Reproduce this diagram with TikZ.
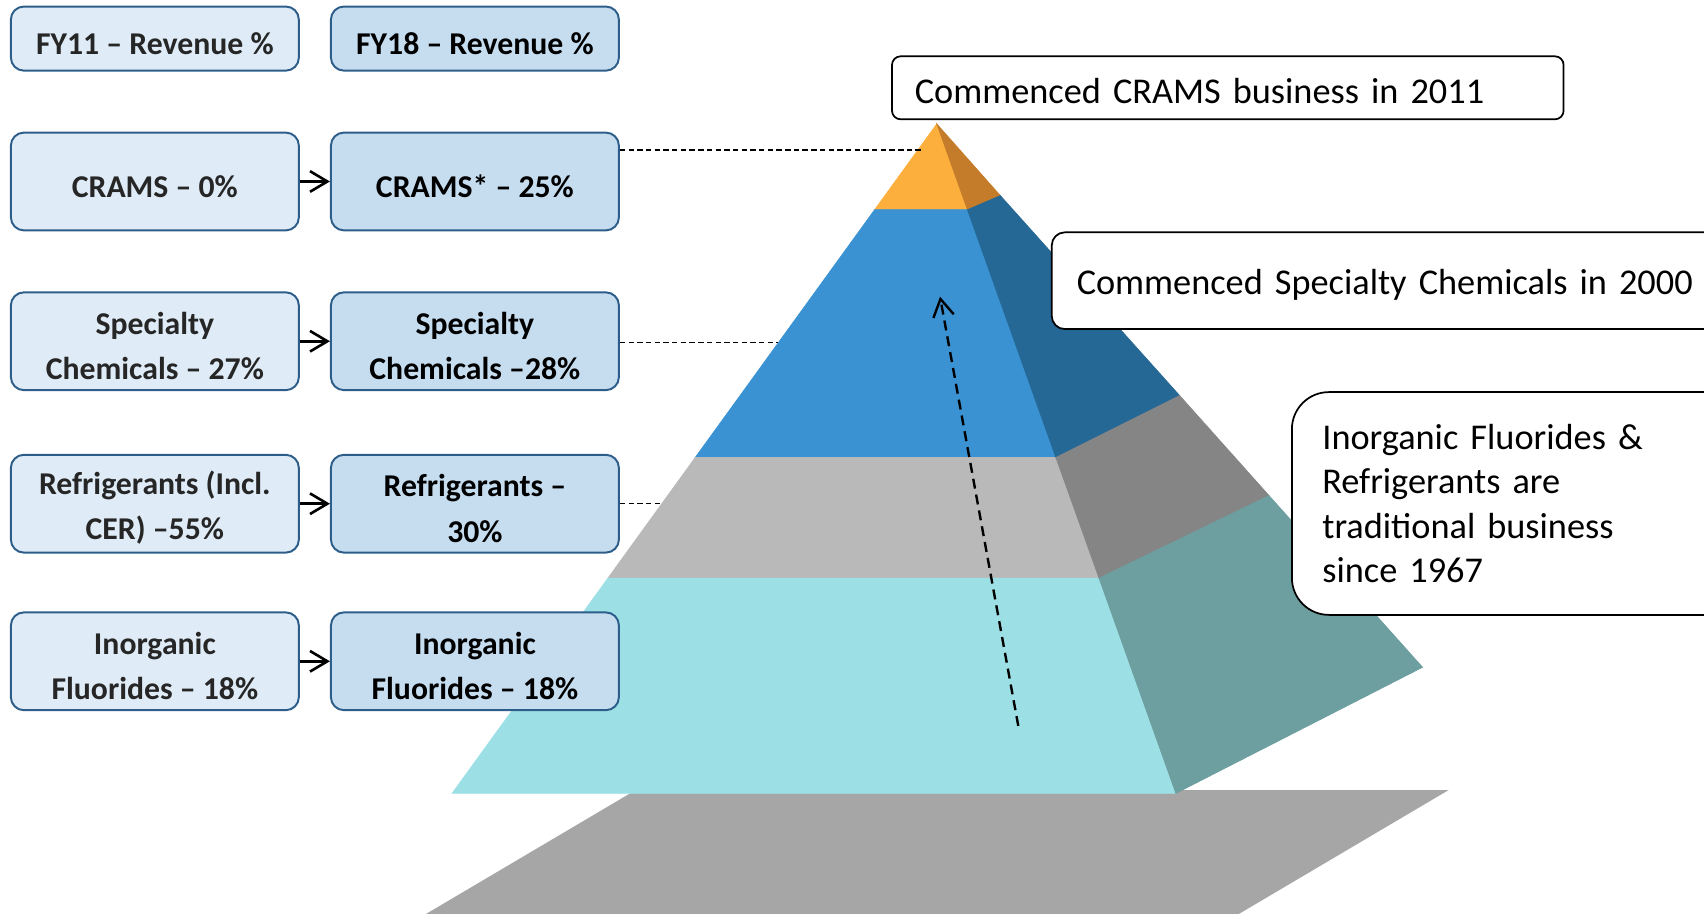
\documentclass[tikz,border=0pt]{standalone}
\usepackage{fontspec}
\setmainfont{Carlito}
\usetikzlibrary{arrows.meta}
\definecolor{fyoldfill}{HTML}{DFECF7}
\definecolor{fynewfill}{HTML}{C6DDF0}
\definecolor{boxline}{HTML}{2D5E8A}
\definecolor{fyoldtext}{HTML}{262626}
\definecolor{topfront}{HTML}{FDAF3E}
\definecolor{topside}{HTML}{C47C2A}
\definecolor{blufront}{HTML}{3A92D2}
\definecolor{bluside}{HTML}{256895}
\definecolor{grefront}{HTML}{B9B9B9}
\definecolor{greside}{HTML}{858585}
\definecolor{cyafront}{HTML}{9CE0E6}
\definecolor{cyaside}{HTML}{6D9EA0}
\definecolor{shadowgrey}{HTML}{A6A6A6}

\begin{document}
\begin{tikzpicture}[x=0.5pt,y=-0.5pt,>={Straight Barb[length=8pt,width=9.5pt]}]
    \tikzstyle{share}=[rectangle,rounded corners=6pt,draw=boxline,line width=0.9pt,minimum width=132.5pt,minimum height=45pt,inner sep=2pt,align=center,font=\bfseries\fontsize{14.6}{21}\selectfont]
    \tikzstyle{fyold}=[share,fill=fyoldfill,text=fyoldtext]
    \tikzstyle{fynew}=[share,fill=fynewfill,text=black]
    \tikzstyle{note}=[rectangle,draw=black,fill=white,line width=0.8pt,align=left,anchor=north west,font=\fontsize{16.7}{20.5}\selectfont]
    \tikzstyle{guide}=[line width=0.6pt,dash pattern=on 2.5pt off 1.5pt]
    \tikzstyle{seg}=[line width=0.3pt]

    \useasboundingbox (0,0) rectangle (1568,841);

    % shadow under the pyramid
    \fill[shadowgrey] (585,727) -- (1333,727) -- (1140,841) -- (392,841) -- cycle;

    % front face, top to bottom
    \filldraw[seg,topfront] (862,114) -- (890.2,193) -- (804.8,193) -- cycle;
    \filldraw[seg,blufront] (804.8,193) -- (890.2,193) -- (971.6,421) -- (639.7,421) -- cycle;
    \filldraw[seg,grefront] (639.7,421) -- (971.6,421) -- (1011.3,532) -- (559.4,532) -- cycle;
    \filldraw[seg,cyafront] (559.4,532) -- (1011.3,532) -- (1082,730) -- (416,730) -- cycle;
    % right face
    \filldraw[seg,topside] (862,114) -- (920.5,180) -- (890.2,193) -- cycle;
    \filldraw[seg,bluside] (890.2,193) -- (920.5,180) -- (1085.5,364) -- (971.6,421) -- cycle;
    \filldraw[seg,greside] (971.6,421) -- (1085.5,364) -- (1167.7,456) -- (1011.3,532) -- cycle;
    \filldraw[seg,cyaside] (1011.3,532) -- (1167.7,456) -- (1309,614) -- (1082,730) -- cycle;

    \node[fyold,minimum height=29.5pt] (H-1) at (142.5,35.5) {\rule{0pt}{14.5pt}FY11 – Revenue \%};
    \node[fynew,minimum height=29.5pt] (H-2) at (437,35.5) {\rule{0pt}{14.5pt}FY18 – Revenue \%};

    \foreach \num/\y/\old/\new in {
        1/167/{CRAMS – 0\%}/{CRAMS* – 25\%},
        2/314/{Specialty\\Chemicals – 27\%}/{Specialty\\Chemicals –28\%},
        3/463.5/{Refrigerants (Incl.\\CER) –55\%}/{Refrigerants –\\30\%},
        4/608.5/{Inorganic\\Fluorides – 18\%}/{Inorganic\\Fluorides – 18\%}}
    {
        \node[fyold] (L-\num) at (142.5,\y) {\rule{0pt}{14.5pt}\old};
        \node[fynew] (R-\num) at (437,\y) {\rule{0pt}{14.5pt}\new};
        \draw[->,line width=1.2pt] (L-\num) -- (R-\num);
    }

    \coordinate (G-1) at (848,138);
    \coordinate (G-2) at (716,315);
    \coordinate (G-3) at (610,463);
    \foreach \num in {1,2,3}
        \draw[guide] (R-\num.east |- G-\num) -- (G-\num);

    \coordinate (up-s) at (937,668);
    \coordinate (up-e) at (865,273);
    \draw[->,line width=1.1pt,dash pattern=on 4.6pt off 2.8pt] (up-s) -- (up-e);

    \node[note,rounded corners=4pt,minimum height=29pt,text width=288pt,inner xsep=10.5pt] (C-1) at (820,51) {\rule{0pt}{15pt}Commenced CRAMS business in 2011};
    \node[note,rounded corners=6pt,minimum height=44.5pt,text width=300pt,inner xsep=11.5pt] (C-2) at (967,213) {\rule{0pt}{15.5pt}Commenced Specialty Chemicals in 2000};
    \node[note,rounded corners=17pt,minimum height=102.5pt,text width=250pt,inner xsep=14pt] (C-3) at (1188,360) {Inorganic Fluorides \&\\Refrigerants are\\traditional business\\since 1967};
\end{tikzpicture}
\end{document}
